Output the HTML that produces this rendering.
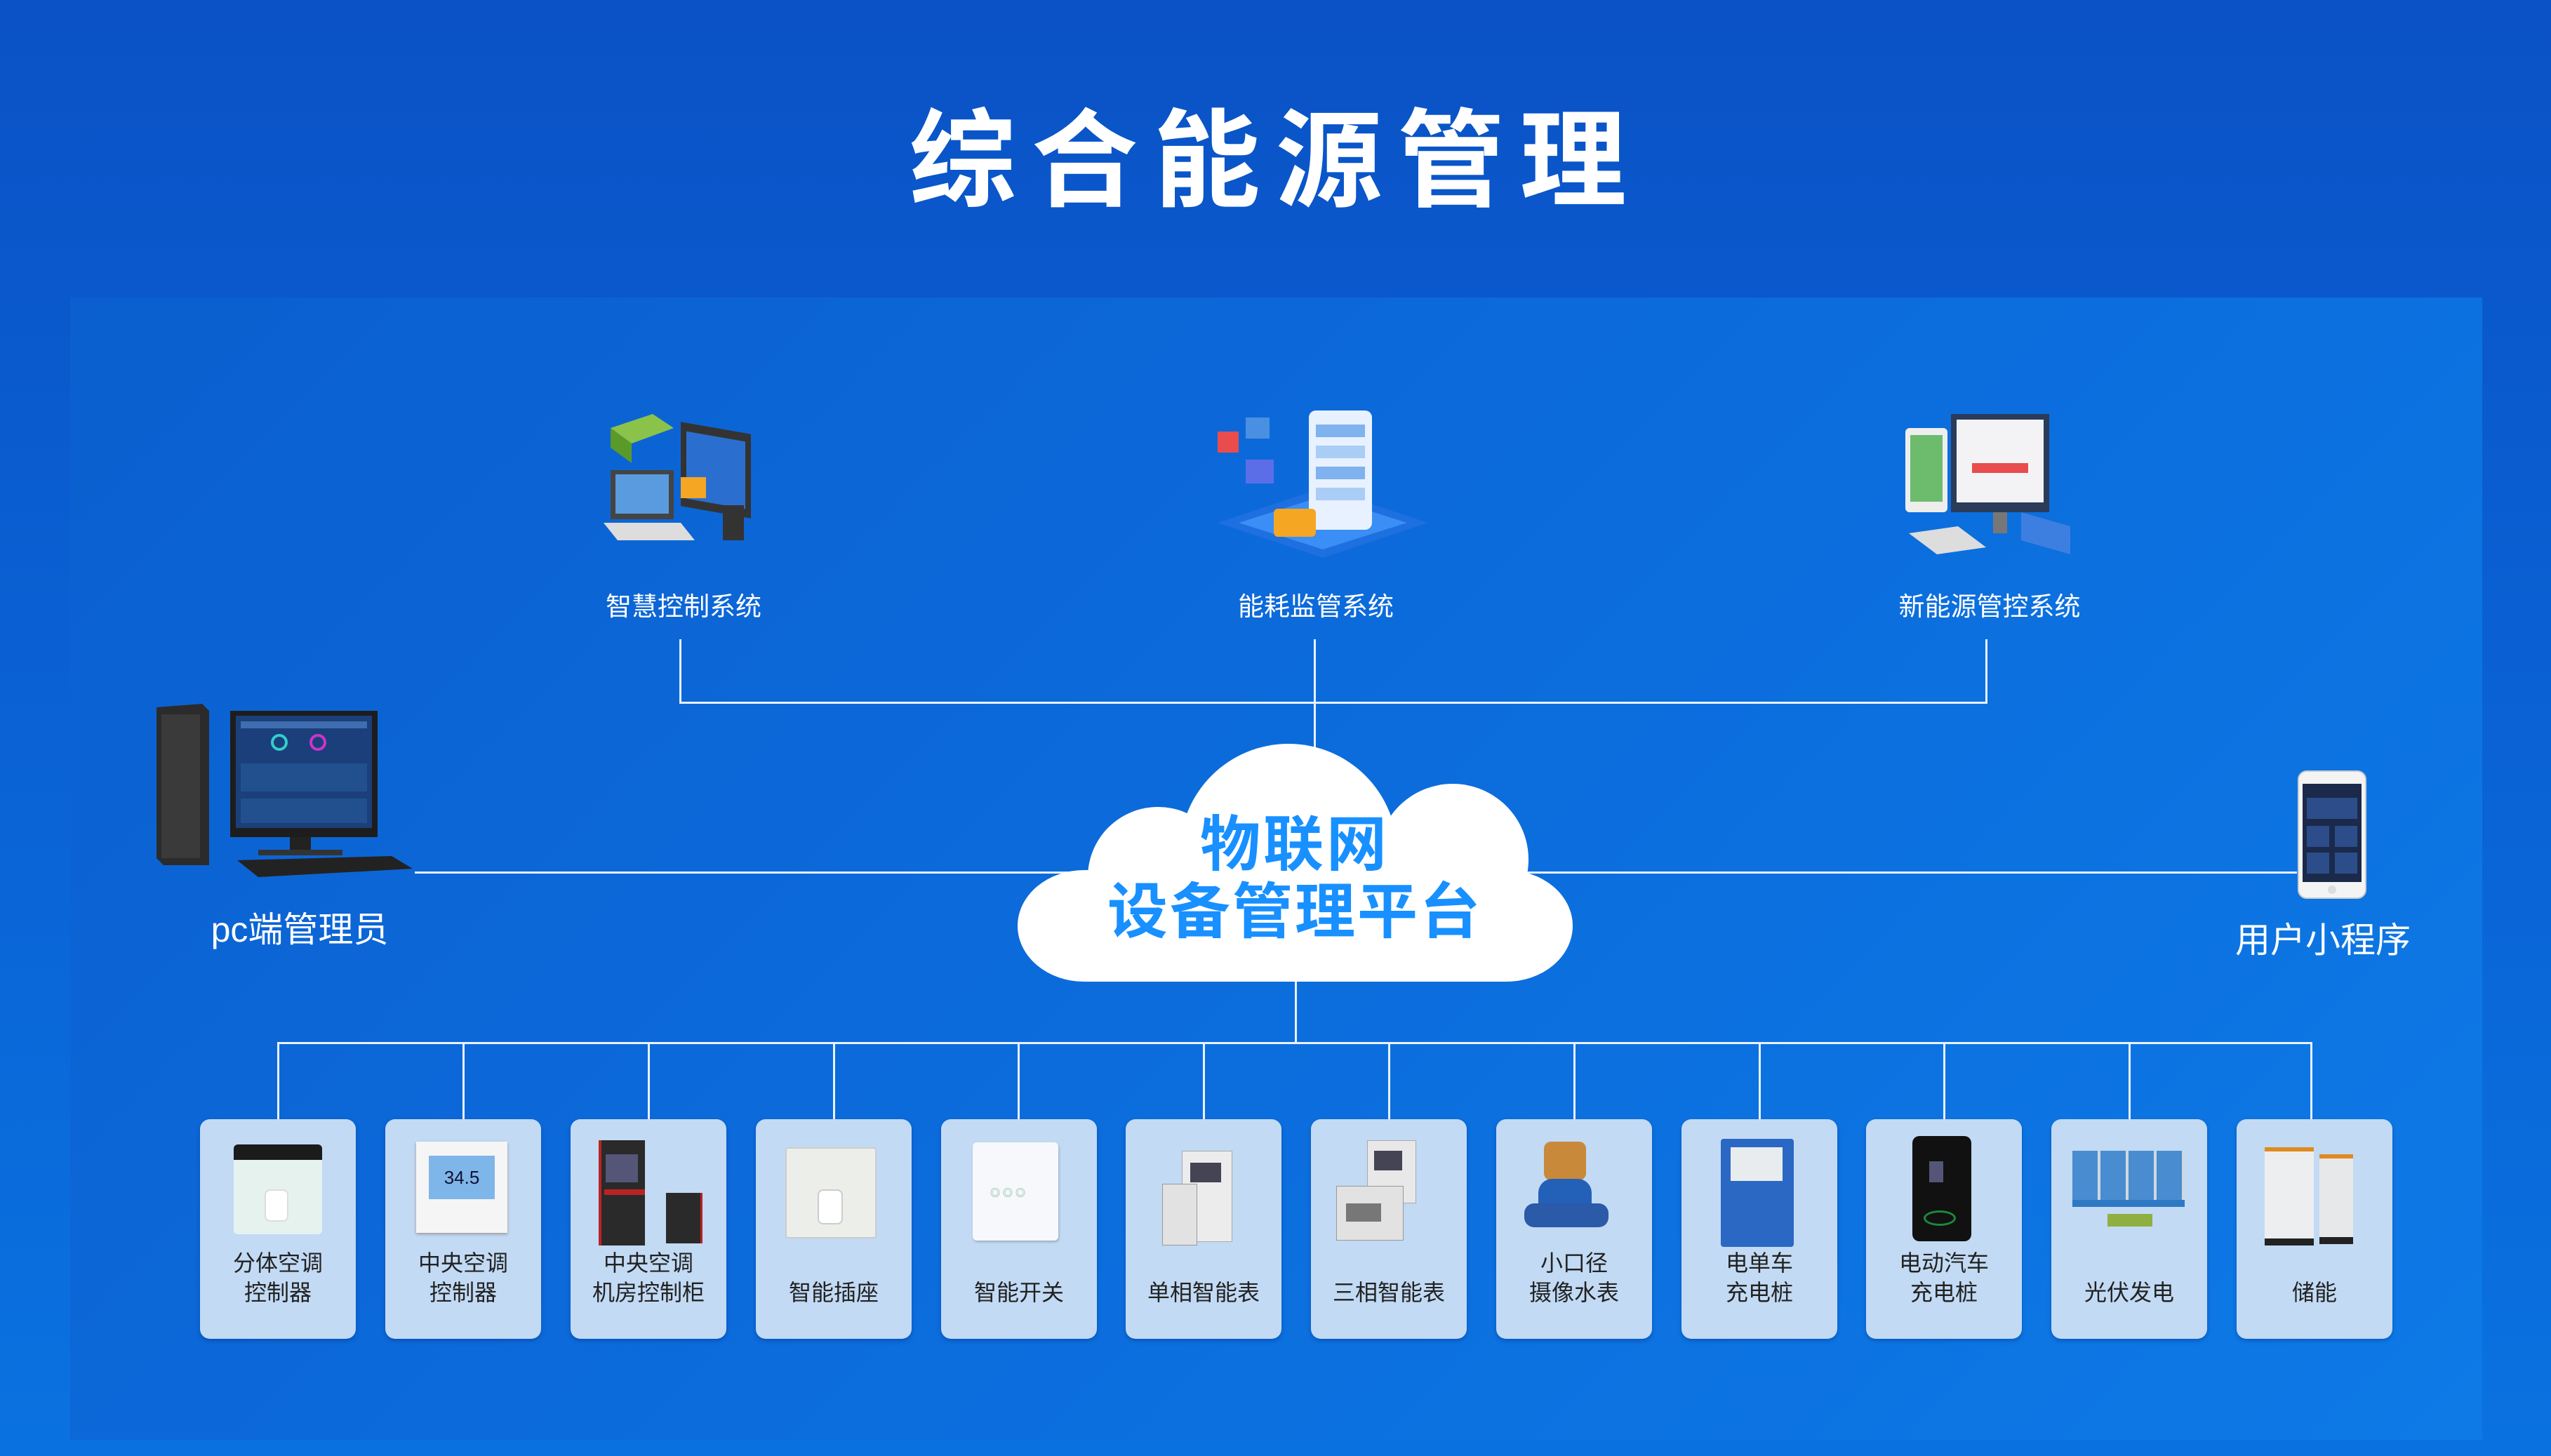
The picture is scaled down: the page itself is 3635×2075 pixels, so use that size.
<!DOCTYPE html>
<html><head><meta charset="utf-8"><style>
*{margin:0;padding:0;box-sizing:border-box}
body{width:3635px;height:2075px;overflow:hidden;position:relative;background:linear-gradient(180deg,#0a52c6 0%,#0a62d4 50%,#0a72e0 100%);font-family:"Liberation Sans","Noto Sans CJK SC",sans-serif}
.a{position:absolute}
.panel{left:100px;top:424px;width:3437px;height:1628px;background:linear-gradient(135deg,#0b5fcf 0%,#0c6cdc 50%,#0d7ae6 100%)}
.title{left:0;width:3635px;top:140px;text-align:center;color:#fff;font-size:152px;font-weight:bold;letter-spacing:22px;line-height:180px}
.ln{background:#e8f2ff}
.lbl{color:#fff;font-size:37px;text-align:center;width:400px;line-height:44px}
.card{width:222px;height:313px;top:1595px;background:#c2daf4;border-radius:14px;box-shadow:0 3px 6px rgba(0,40,120,.35)}
.ct{position:absolute;left:0;width:222px;text-align:center;color:#222;font-size:32px;line-height:42px}
</style></head><body>
<div class="a title">综合能源管理</div>
<div class="a panel"></div>

<!-- top system icons -->
<svg class="a" style="left:850px;top:570px" width="260" height="240" viewBox="0 0 260 240">
<polygon points="20,40 80,20 110,40 50,62" fill="#8bc34a"/><polygon points="20,40 50,62 50,90 20,68" fill="#5a9a2a"/>
<rect x="120" y="10" width="100" height="120" fill="#333" transform="skewY(10)"/><rect x="128" y="22" width="84" height="96" fill="#2a6fcf" transform="skewY(10)"/>
<rect x="20" y="100" width="90" height="70" fill="#444"/><rect x="27" y="106" width="76" height="56" fill="#5a9be0"/>
<polygon points="10,175 120,175 140,200 30,200" fill="#ddd"/>
<rect x="180" y="150" width="30" height="50" fill="#333"/><rect x="120" y="110" width="36" height="30" fill="#f5a623"/>
</svg>
<svg class="a" style="left:1715px;top:575px" width="340" height="230" viewBox="0 0 340 230">
<polygon points="20,170 170,120 320,170 170,220" fill="#1e6fe0"/><polygon points="50,170 170,132 290,170 170,208" fill="#3a8ef5"/>
<rect x="150" y="10" width="90" height="170" rx="10" fill="#e8f1ff"/><rect x="160" y="30" width="70" height="18" fill="#7fb2ee"/><rect x="160" y="60" width="70" height="18" fill="#a9cdf5"/><rect x="160" y="90" width="70" height="18" fill="#7fb2ee"/><rect x="160" y="120" width="70" height="18" fill="#a9cdf5"/>
<rect x="100" y="150" width="60" height="40" rx="6" fill="#f5a623"/>
<rect x="20" y="40" width="30" height="30" fill="#e84c4c"/><rect x="60" y="20" width="34" height="30" fill="#4a90e2"/><rect x="60" y="80" width="40" height="34" fill="#5b6ee8"/>
</svg>
<svg class="a" style="left:2700px;top:580px" width="260" height="220" viewBox="0 0 260 220">
<rect x="15" y="30" width="60" height="120" rx="6" fill="#eee"/><rect x="22" y="40" width="46" height="95" fill="#6dbb6d"/>
<rect x="80" y="10" width="140" height="140" fill="#2b3b5a"/><rect x="88" y="18" width="124" height="118" fill="#f3f3f6"/><rect x="110" y="80" width="80" height="14" fill="#e84c4c"/>
<rect x="140" y="150" width="20" height="30" fill="#777"/><polygon points="20,180 90,170 130,200 60,210" fill="#ddd"/><polygon points="180,150 250,170 250,210 180,190" fill="#3d7fe0"/>
</svg>
<div class="a lbl" style="left:774px;top:843px">智慧控制系统</div>
<div class="a lbl" style="left:1675px;top:843px">能耗监管系统</div>
<div class="a lbl" style="left:2635px;top:843px">新能源管控系统</div>

<!-- top connectors -->
<div class="a ln" style="left:968px;top:911px;width:3px;height:92px"></div>
<div class="a ln" style="left:1872px;top:911px;width:3px;height:160px"></div>
<div class="a ln" style="left:2829px;top:911px;width:3px;height:92px"></div>
<div class="a ln" style="left:968px;top:1000px;width:1864px;height:3px"></div>
<!-- middle -->
<div class="a ln" style="left:591px;top:1242px;width:2682px;height:3px"></div>
<div class="a ln" style="left:1845px;top:1390px;width:3px;height:97px"></div>
<div class="a ln" style="left:395px;top:1485px;width:2900px;height:3px"></div>

<!-- cloud -->
<svg class="a" style="left:1440px;top:1050px" width="820" height="360" viewBox="1440 1050 820 360">
<g fill="#fff">
<circle cx="1836" cy="1215" r="155"/>
<circle cx="2070" cy="1225" r="108"/>
<circle cx="1650" cy="1250" r="100"/>
<rect x="1450" y="1240" width="791" height="159" rx="95" ry="80"/>
</g>
</svg>
<div class="a" style="left:1440px;top:1158px;width:810px;text-align:center;color:#1890ff;font-size:86px;font-weight:bold;line-height:92px;letter-spacing:4px">物联网</div>
<div class="a" style="left:1440px;top:1252px;width:810px;text-align:center;color:#1890ff;font-size:86px;font-weight:bold;line-height:96px;letter-spacing:3px">设备管理平台</div>

<!-- PC -->
<svg class="a" style="left:218px;top:998px" width="380" height="260" viewBox="0 0 380 260">
<polygon points="5,10 70,5 80,15 80,235 15,235 5,225" fill="#2b2b2b"/><rect x="12" y="20" width="55" height="205" fill="#3a3a3a"/>
<rect x="110" y="15" width="210" height="180" fill="#1d1d1d"/><rect x="118" y="22" width="194" height="160" fill="#1a3f7a"/>
<rect x="125" y="30" width="180" height="10" fill="#3f6db0"/><circle cx="180" cy="60" r="10" fill="none" stroke="#3cc" stroke-width="4"/><circle cx="235" cy="60" r="10" fill="none" stroke="#c3c" stroke-width="4"/>
<rect x="125" y="90" width="180" height="40" fill="#22508f"/><rect x="125" y="140" width="180" height="35" fill="#22508f"/>
<rect x="195" y="195" width="30" height="20" fill="#222"/><rect x="150" y="213" width="120" height="8" fill="#333"/>
<polygon points="120,228 340,222 370,240 150,252" fill="#222"/>
</svg>
<div class="a" style="left:227px;top:1295px;width:400px;text-align:center;color:#fff;font-size:50px;line-height:60px">pc端管理员</div>

<!-- phone -->
<svg class="a" style="left:3273px;top:1097px" width="100" height="185" viewBox="0 0 100 185">
<rect x="2" y="2" width="96" height="181" rx="12" fill="#f4f4f4" stroke="#ccc" stroke-width="2"/>
<rect x="8" y="20" width="84" height="140" fill="#1b2a4a"/><rect x="14" y="40" width="72" height="30" fill="#2c4d8a"/><rect x="14" y="80" width="32" height="30" fill="#2c4d8a"/><rect x="54" y="80" width="32" height="30" fill="#2c4d8a"/><rect x="14" y="118" width="32" height="30" fill="#2c4d8a"/><rect x="54" y="118" width="32" height="30" fill="#2c4d8a"/>
<circle cx="50" cy="171" r="6" fill="#ddd"/>
</svg>
<div class="a" style="left:3110px;top:1310px;width:400px;text-align:center;color:#fff;font-size:50px;line-height:60px">用户小程序</div>

<!-- bottom verticals -->
<div class="a ln" style="left:395px;top:1485px;width:3px;height:145px"></div>
<div class="a ln" style="left:659px;top:1485px;width:3px;height:145px"></div>
<div class="a ln" style="left:923px;top:1485px;width:3px;height:145px"></div>
<div class="a ln" style="left:1187px;top:1485px;width:3px;height:145px"></div>
<div class="a ln" style="left:1450px;top:1485px;width:3px;height:145px"></div>
<div class="a ln" style="left:1714px;top:1485px;width:3px;height:145px"></div>
<div class="a ln" style="left:1978px;top:1485px;width:3px;height:145px"></div>
<div class="a ln" style="left:2242px;top:1485px;width:3px;height:145px"></div>
<div class="a ln" style="left:2506px;top:1485px;width:3px;height:145px"></div>
<div class="a ln" style="left:2769px;top:1485px;width:3px;height:145px"></div>
<div class="a ln" style="left:3033px;top:1485px;width:3px;height:145px"></div>
<div class="a ln" style="left:3292px;top:1485px;width:3px;height:145px"></div>

<!-- cards -->
<div class="a card" style="left:285px"><div class="a" style="left:48px;top:36px;width:126px;height:128px;background:#e6f2ee;border-radius:6px;border-top:22px solid #1b1b1b"></div><div class="a" style="left:92px;top:100px;width:34px;height:46px;background:#fff;border:2px solid #ddd;border-radius:8px"></div><div class="ct" style="top:184px">分体空调<br>控制器</div></div>
<div class="a card" style="left:549px"><div class="a" style="left:44px;top:32px;width:130px;height:130px;background:#f5f5f5;box-shadow:0 2px 4px #999"></div><div class="a" style="left:62px;top:52px;width:94px;height:62px;background:#7fb6ea;color:#113;font-size:26px;text-align:center;line-height:62px">34.5</div><div class="ct" style="top:184px">中央空调<br>控制器</div></div>
<div class="a card" style="left:813px"><div class="a" style="left:40px;top:30px;width:66px;height:150px;background:#2a2a2a;border-left:4px solid #b22"></div><div class="a" style="left:50px;top:50px;width:46px;height:40px;background:#557"></div><div class="a" style="left:48px;top:100px;width:58px;height:8px;background:#b22"></div><div class="a" style="left:136px;top:105px;width:52px;height:72px;background:#2a2a2a;border-right:3px solid #b22"></div><div class="ct" style="top:184px">中央空调<br>机房控制柜</div></div>
<div class="a card" style="left:1077px"><div class="a" style="left:42px;top:40px;width:130px;height:130px;background:#eceeea;border:2px solid #ccc;border-radius:4px"></div><div class="a" style="left:88px;top:100px;width:36px;height:50px;background:#fff;border:2px solid #ccc;border-radius:8px"></div><div class="ct" style="top:226px">智能插座</div></div>
<div class="a card" style="left:1341px"><div class="a" style="left:45px;top:33px;width:122px;height:140px;background:#f7f8fb;border-radius:6px;box-shadow:1px 2px 3px #9ab"></div><div class="a" style="left:70px;top:95px;width:70px;height:16px;color:#6a8;font-size:14px;letter-spacing:4px">◎◎◎</div><div class="ct" style="top:226px">智能开关</div></div>
<div class="a card" style="left:1604px"><div class="a" style="left:80px;top:45px;width:72px;height:130px;background:#ececec;border:1px solid #aaa"></div><div class="a" style="left:92px;top:62px;width:44px;height:28px;background:#445"></div><div class="a" style="left:52px;top:92px;width:50px;height:88px;background:#e2e2e2;border:1px solid #999"></div><div class="ct" style="top:226px">单相智能表</div></div>
<div class="a card" style="left:1868px"><div class="a" style="left:80px;top:30px;width:70px;height:90px;background:#e8e8e8;border:1px solid #aaa"></div><div class="a" style="left:90px;top:45px;width:40px;height:28px;background:#445"></div><div class="a" style="left:36px;top:95px;width:96px;height:78px;background:#e2e2e2;border:1px solid #999"></div><div class="a" style="left:50px;top:120px;width:50px;height:26px;background:#777"></div><div class="ct" style="top:226px">三相智能表</div></div>
<div class="a card" style="left:2132px"><div class="a" style="left:68px;top:32px;width:60px;height:55px;background:#c9893a;border-radius:10px"></div><div class="a" style="left:60px;top:85px;width:76px;height:60px;background:#2360b8;border-radius:20px"></div><div class="a" style="left:40px;top:120px;width:120px;height:34px;background:#2a5aa8;border-radius:14px"></div><div class="ct" style="top:184px">小口径<br>摄像水表</div></div>
<div class="a card" style="left:2396px"><div class="a" style="left:56px;top:28px;width:104px;height:154px;background:#2a68c4;border-radius:4px"></div><div class="a" style="left:70px;top:40px;width:74px;height:48px;background:#e8ecef"></div><div class="ct" style="top:184px">电单车<br>充电桩</div></div>
<div class="a card" style="left:2659px"><div class="a" style="left:66px;top:24px;width:84px;height:150px;background:#111;border-radius:10px"></div><div class="a" style="left:90px;top:60px;width:20px;height:30px;background:#557"></div><div class="a" style="left:82px;top:130px;width:46px;height:22px;border:3px solid #1a8a3a;border-radius:50%"></div><div class="ct" style="top:184px">电动汽车<br>充电桩</div></div>
<div class="a card" style="left:2923px"><div class="a" style="left:30px;top:45px;width:160px;height:80px;background:repeating-linear-gradient(90deg,#4a8cd0 0 36px,#cfd8e0 36px 40px),#4a8cd0;border-bottom:10px solid #2e78c4"></div><div class="a" style="left:80px;top:135px;width:64px;height:18px;background:#8fb040"></div><div class="ct" style="top:226px">光伏发电</div></div>
<div class="a card" style="left:3187px"><div class="a" style="left:40px;top:40px;width:70px;height:140px;background:#eceeef;border-top:6px solid #e08a20;border-bottom:10px solid #222"></div><div class="a" style="left:118px;top:50px;width:48px;height:128px;background:#e6e8ea;border-top:6px solid #e08a20;border-bottom:10px solid #222"></div><div class="ct" style="top:226px">储能</div></div>
</body></html>
